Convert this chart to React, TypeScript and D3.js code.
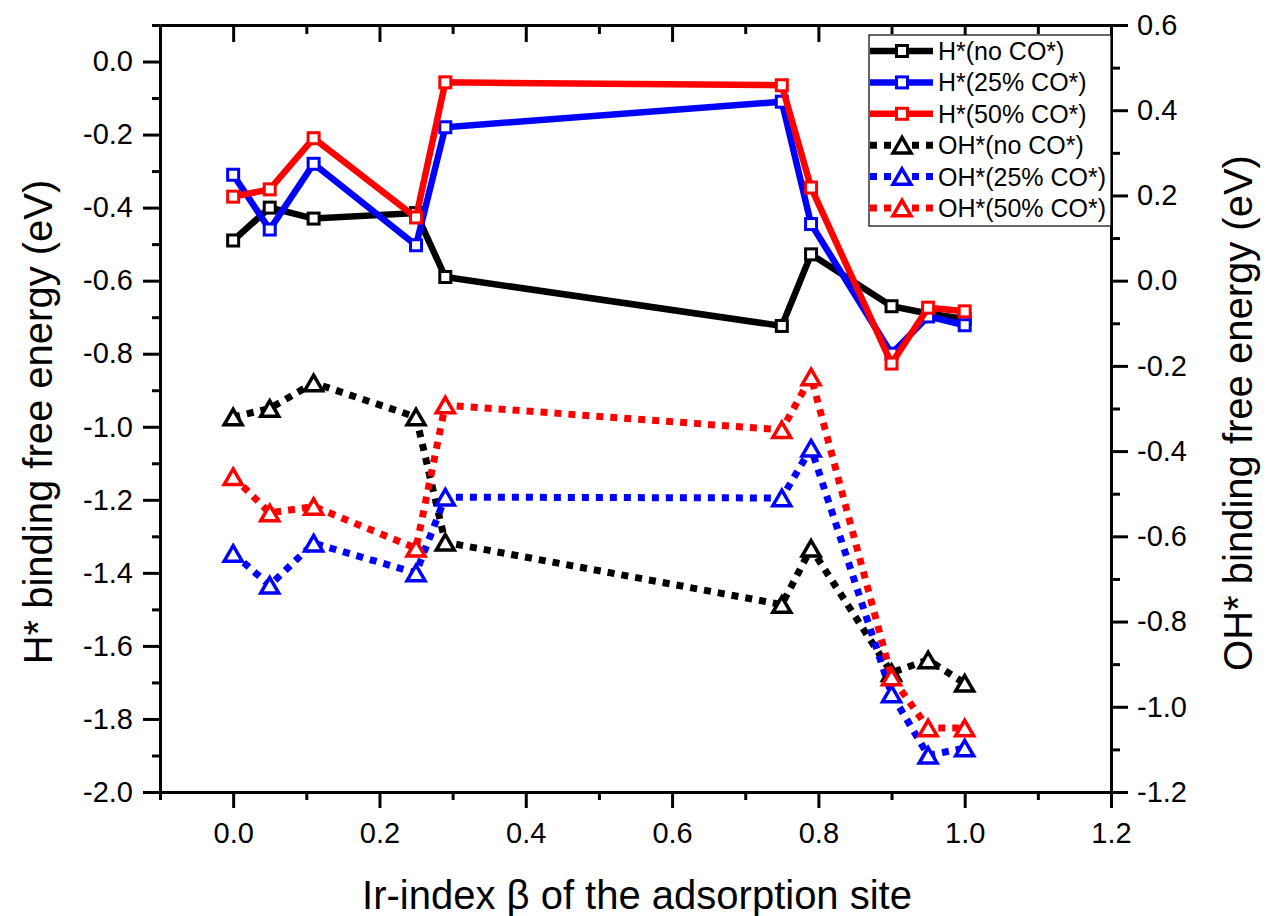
import React, { useEffect, useRef } from 'react';
import * as d3 from 'd3';

// Ir-index of each adsorption site
const beta = [0, 0.05, 0.11, 0.25, 0.29, 0.75, 0.79, 0.9, 0.95, 1.0];

// H* binding free energy (left axis, eV)
const hNoCO = [-0.49, -0.4, -0.43, -0.415, -0.59, -0.724, -0.528, -0.67, -0.69, -0.705];
const h25CO = [-0.31, -0.46, -0.28, -0.503, -0.18, -0.11, -0.445, -0.8, -0.698, -0.722];
const h50CO = [-0.37, -0.35, -0.21, -0.427, -0.057, -0.065, -0.345, -0.827, -0.674, -0.684];

// OH* binding free energy (right axis, eV)
const ohNoCO = [-0.32, -0.3, -0.24, -0.32, -0.614, -0.76, -0.628, -0.92, -0.89, -0.945];
const oh25CO = [-0.64, -0.715, -0.616, -0.686, -0.508, -0.51, -0.393, -0.97, -1.114, -1.097];
const oh50CO = [-0.46, -0.545, -0.53, -0.628, -0.292, -0.35, -0.226, -0.93, -1.05, -1.05];

const xMajor = [0, 0.2, 0.4, 0.6, 0.8, 1.0, 1.2];
const xMinor = [-0.1, 0.1, 0.3, 0.5, 0.7, 0.9, 1.1];
const yLeftMajor = [-2.0, -1.8, -1.6, -1.4, -1.2, -1.0, -0.8, -0.6, -0.4, -0.2, 0.0];
const yLeftMinor = [-1.9, -1.7, -1.5, -1.3, -1.1, -0.9, -0.7, -0.5, -0.3, -0.1, 0.1];
const yRightMajor = [-1.2, -1.0, -0.8, -0.6, -0.4, -0.2, 0.0, 0.2, 0.4, 0.6];
const yRightMinor = [-1.1, -0.9, -0.7, -0.5, -0.3, -0.1, 0.1, 0.3, 0.5];

const series = [
    { label: 'H*(no CO*)', values: hNoCO, color: '#000000', kind: 'H' },
    { label: 'H*(25% CO*)', values: h25CO, color: '#0000ff', kind: 'H' },
    { label: 'H*(50% CO*)', values: h50CO, color: '#ff0000', kind: 'H' },
    { label: 'OH*(no CO*)', values: ohNoCO, color: '#000000', kind: 'OH' },
    { label: 'OH*(25% CO*)', values: oh25CO, color: '#0000ff', kind: 'OH' },
    { label: 'OH*(50% CO*)', values: oh50CO, color: '#ff0000', kind: 'OH' },
];

const FONT = '"Liberation Sans", Arial, Helvetica, sans-serif';
const W = 1268;
const H = 916;

const trianglePath = (cx: number, cy: number) => {
    const s = 18;
    const h = 15.5;
    return `M${cx},${cy - h / 2}L${cx + s / 2},${cy + h / 2}L${cx - s / 2},${cy + h / 2}Z`;
};

function Chart() {
    const svgRef = useRef<SVGSVGElement>(null);

    useEffect(() => {
        const svg = d3.select(svgRef.current);
        svg.selectAll('*').remove();

        const left = 160;
        const right = 1111;
        const top = 25;
        const bottom = 792;

        const x = d3.scaleLinear().domain([-0.1, 1.2]).range([left, right]);
        const yL = d3.scaleLinear().domain([-2.0, 0.1]).range([bottom, top]);
        const yR = d3.scaleLinear().domain([-1.2, 0.6]).range([bottom, top]);

        const fmt = (d: number) => (Math.abs(d) < 1e-9 ? '0.0' : d.toFixed(1));

        const styleAxis = (g: any, fontSize: number) => {
            g.select('.domain').attr('stroke', '#000').attr('stroke-width', 3);
            g.selectAll('.tick line').attr('stroke', '#000').attr('stroke-width', 3);
            g.selectAll('.tick text')
                .attr('fill', '#000')
                .style('font-family', FONT)
                .style('font-size', fontSize + 'px');
        };

        // plot lines and symbols
        const plot = svg.append('g');
        series.forEach((s) => {
            const yScale = s.kind === 'H' ? yL : yR;
            const pts = beta.map((b, i) => [x(b), yScale(s.values[i])] as [number, number]);
            const line = d3.line();
            const g = plot.append('g');
            if (s.kind === 'H') {
                g.append('path')
                    .attr('d', line(pts))
                    .attr('fill', 'none')
                    .attr('stroke', s.color)
                    .attr('stroke-width', 6.5)
                    .attr('stroke-linejoin', 'miter');
                g.selectAll('rect')
                    .data(pts)
                    .join('rect')
                    .attr('x', (d) => d[0] - 5.5)
                    .attr('y', (d) => d[1] - 5.5)
                    .attr('width', 11)
                    .attr('height', 11)
                    .attr('fill', '#fff')
                    .attr('stroke', s.color)
                    .attr('stroke-width', 3);
            } else {
                g.append('path')
                    .attr('d', line(pts))
                    .attr('fill', 'none')
                    .attr('stroke', s.color)
                    .attr('stroke-width', 7)
                    .attr('stroke-dasharray', '7 7');
                g.selectAll('path.sym')
                    .data(pts)
                    .join('path')
                    .attr('class', 'sym')
                    .attr('d', (d) => trianglePath(d[0], d[1]))
                    .attr('fill', '#fff')
                    .attr('stroke', s.color)
                    .attr('stroke-width', 3.5)
                    .attr('stroke-linejoin', 'miter');
            }
        });

        // axes
        const gB = svg.append('g').attr('transform', `translate(0,${bottom})`);
        gB.call(d3.axisBottom(x).tickValues(xMajor).tickFormat(fmt as any).tickSize(16).tickSizeOuter(0).tickPadding(14));
        styleAxis(gB, 29);
        const gBm = svg.append('g').attr('transform', `translate(0,${bottom})`);
        gBm.call(d3.axisBottom(x).tickValues(xMinor).tickFormat(() => '').tickSize(8).tickSizeOuter(0));
        styleAxis(gBm, 29);

        const gT = svg.append('g').attr('transform', `translate(0,${top})`);
        gT.call(d3.axisTop(x).tickValues(xMajor).tickFormat(() => '').tickSize(-17).tickSizeOuter(0));
        styleAxis(gT, 29);
        const gTm = svg.append('g').attr('transform', `translate(0,${top})`);
        gTm.call(d3.axisTop(x).tickValues(xMinor).tickFormat(() => '').tickSize(-9).tickSizeOuter(0));
        styleAxis(gTm, 29);

        const gL = svg.append('g').attr('transform', `translate(${left},0)`);
        gL.call(d3.axisLeft(yL).tickValues(yLeftMajor).tickFormat(fmt as any).tickSize(17).tickSizeOuter(0).tickPadding(10));
        styleAxis(gL, 29);
        const gLm = svg.append('g').attr('transform', `translate(${left},0)`);
        gLm.call(d3.axisLeft(yL).tickValues(yLeftMinor).tickFormat(() => '').tickSize(8).tickSizeOuter(0));
        styleAxis(gLm, 29);

        const gR = svg.append('g').attr('transform', `translate(${right},0)`);
        gR.call(d3.axisRight(yR).tickValues(yRightMajor).tickFormat(fmt as any).tickSize(17).tickSizeOuter(0).tickPadding(9));
        styleAxis(gR, 29);
        const gRm = svg.append('g').attr('transform', `translate(${right},0)`);
        gRm.call(d3.axisRight(yR).tickValues(yRightMinor).tickFormat(() => '').tickSize(9).tickSizeOuter(0));
        styleAxis(gRm, 29);

        // axis titles
        svg.append('text')
            .attr('x', 637)
            .attr('y', 909)
            .attr('text-anchor', 'middle')
            .style('font-family', FONT)
            .style('font-size', '40px')
            .text('Ir-index β of the adsorption site');

        svg.append('text')
            .attr('transform', `translate(52,422) rotate(-90)`)
            .attr('text-anchor', 'middle')
            .style('font-family', FONT)
            .style('font-size', '40px')
            .text('H* binding free energy (eV)');

        svg.append('text')
            .attr('transform', `translate(1252,413) rotate(-90)`)
            .attr('text-anchor', 'middle')
            .style('font-family', FONT)
            .style('font-size', '40px')
            .text('OH* binding free energy (eV)');

        // legend
        const lg = svg.append('g');
        const lgLeft = 869;
        const lgTop = 35;
        lg.append('rect')
            .attr('x', lgLeft)
            .attr('y', lgTop)
            .attr('width', right - lgLeft)
            .attr('height', 191)
            .attr('fill', '#fff')
            .attr('stroke', '#000')
            .attr('stroke-width', 1.2);
        series.forEach((s, i) => {
            const cy = 51 + i * 31.4;
            const row = lg.append('g');
            const x0 = lgLeft + 1;
            const x1 = 933;
            const mx = 902;
            if (s.kind === 'H') {
                row.append('line')
                    .attr('x1', x0).attr('x2', x1).attr('y1', cy).attr('y2', cy)
                    .attr('stroke', s.color).attr('stroke-width', 6.5);
                row.append('rect')
                    .attr('x', mx - 5.5).attr('y', cy - 5.5).attr('width', 11).attr('height', 11)
                    .attr('fill', '#fff').attr('stroke', s.color).attr('stroke-width', 3);
            } else {
                row.append('line')
                    .attr('x1', x0).attr('x2', x1).attr('y1', cy).attr('y2', cy)
                    .attr('stroke', s.color).attr('stroke-width', 7).attr('stroke-dasharray', '7 7');
                row.append('path')
                    .attr('d', trianglePath(mx, cy))
                    .attr('fill', '#fff').attr('stroke', s.color).attr('stroke-width', 3.5);
            }
            row.append('text')
                .attr('x', 938)
                .attr('y', cy + 9)
                .style('font-family', FONT)
                .style('font-size', '25px')
                .text(s.label);
        });
    }, []);

    return (
        <svg
            ref={svgRef}
            width={W}
            height={H}
            style={{ position: 'fixed', left: 0, top: 0, background: '#fff' }}
        ></svg>
    );
}

export default function App() {
    return <Chart />;
}
